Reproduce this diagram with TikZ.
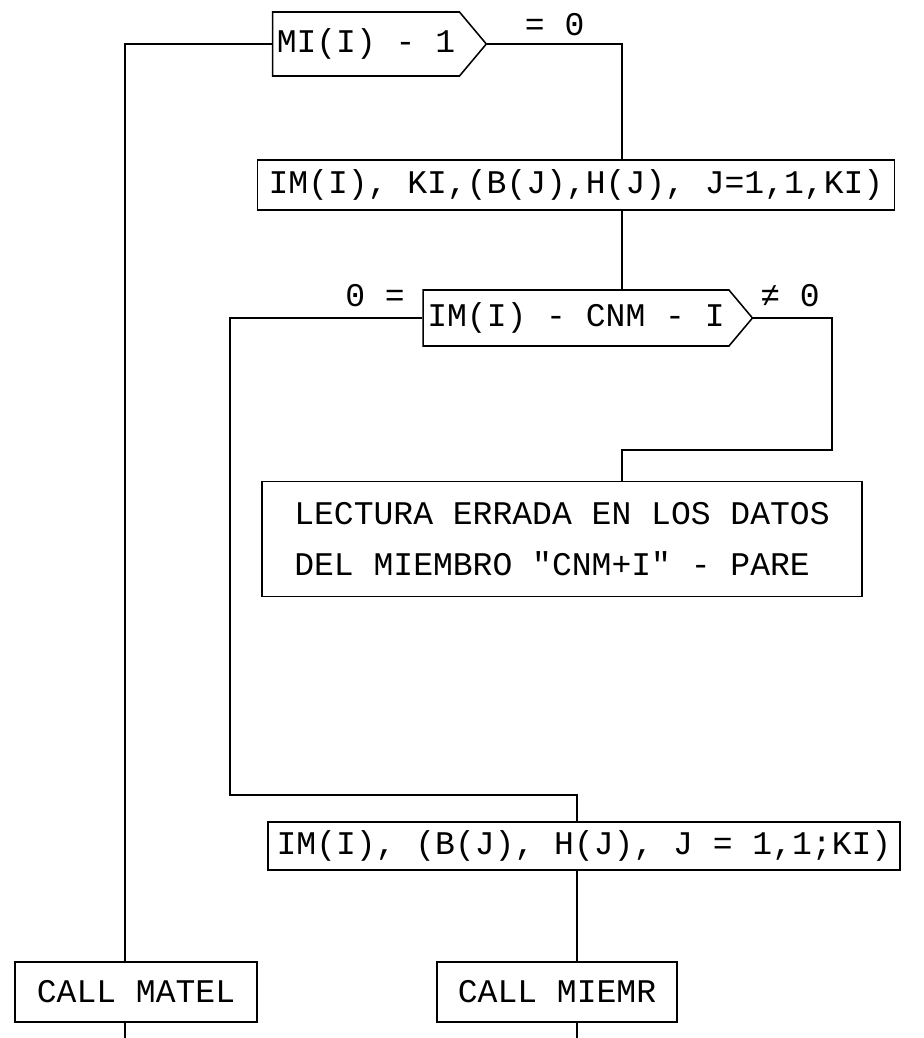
\documentclass[tikz,border=0pt]{standalone}
\usepackage{fontspec}
\setmonofont{Liberation Mono}
\usetikzlibrary{positioning,shapes.symbols}

\begin{document}
\begin{tikzpicture}[x=0.025cm,y=-0.025cm,font=\fontsize{23.5}{28}\selectfont\ttfamily,line width=1.1pt,
  procbox/.style={draw,rectangle,inner sep=0pt},
  decision/.style={draw,signal,signal to=east,signal pointer angle=100,inner ysep=0pt,inner xsep=3pt}]
\useasboundingbox (0,0) rectangle (924,1038);
% columns of the connectors
\coordinate (colL) at (125,0);
\coordinate (colA) at (622,0);
\coordinate (colM) at (577,0);
\coordinate (joinW) at (230,795);
\coordinate (joinE) at (832,450);
\coordinate (bottom) at (0,1038);
% blocks
\node[decision,minimum width=5.325cm,minimum height=1.6cm] (dec1) at (366,44) {MI(I) - 1};
\node[procbox,minimum width=15.925cm,minimum height=1.25cm] (readA) at (576,185) {IM(I), KI,(B(J),H(J), J=1,1,KI)};
\node[decision,minimum width=7.6cm,minimum height=1.4cm] (dec2) at (576,318) {IM(I) - CNM - I};
\node[procbox,minimum width=15cm,minimum height=2.875cm,align=left] (err) at (562,539)
  {LECTURA ERRADA EN LOS DATOS\\[8pt]DEL MIEMBRO "CNM+I" - PARE};
\node[procbox,minimum width=15.8cm,minimum height=1.2cm] (readB) at (584,846) {IM(I), (B(J), H(J), J = 1,1;KI)};
\node[procbox,minimum width=6.05cm,minimum height=1.5cm] (matel) at (136,992) {CALL MATEL};
\node[procbox,minimum width=6cm,minimum height=1.5cm] (miemr) at (557,992) {CALL MIEMR};
% connectors
\draw (dec1.west) -| (matel.north -| colL);
\draw (dec1.east) -- (dec1.east -| colA) node[pos=0.5,above=2pt] {= 0} -- (readA.north -| colA);
\draw (readA.south -| colA) -- (dec2.north -| colA);
\draw (dec2.west) -| (joinW) -| (readB.north -| colM);
\draw (dec2.east) -| (joinE) -| (err.north -| colA);
\draw (readB.south -| colM) -- (miemr.north -| colM);
\draw (matel.south -| colL) -- (bottom -| colL);
\draw (miemr.south -| colM) -- (bottom -| colM);
% branch labels
\node (zeroeq) at (375,296) {0 =};
\node (noteq) at (790,296) {≠ 0};
\end{tikzpicture}
\end{document}
